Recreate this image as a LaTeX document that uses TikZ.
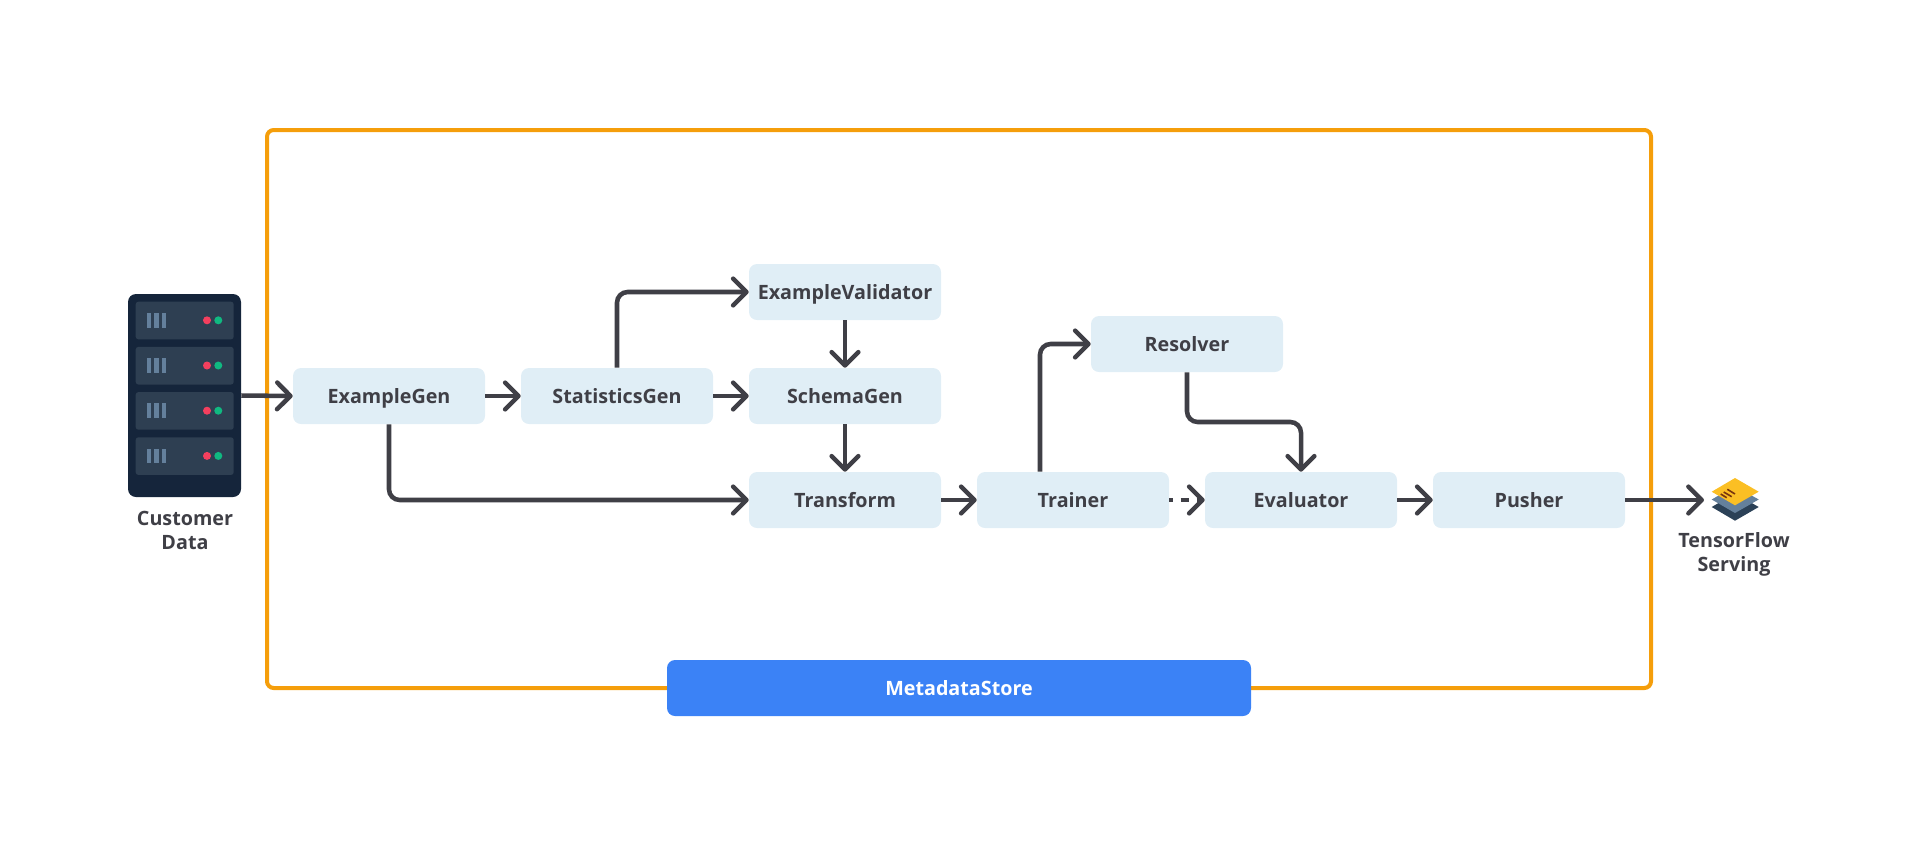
\documentclass[tikz,border=0pt]{standalone}
\usepackage{fontspec}
\setmainfont{Open Sans}
\usetikzlibrary{arrows.meta,positioning}
\definecolor{inkgray}{HTML}{3F3F46}
\definecolor{boxblue}{HTML}{E0EEF6}
\definecolor{storeblue}{HTML}{3B82F6}
\definecolor{frameorange}{HTML}{F59E0B}
\definecolor{rackdark}{HTML}{15253B}
\definecolor{slotgray}{HTML}{2E3F52}
\definecolor{barblue}{HTML}{64809C}
\definecolor{ledred}{HTML}{F43F5E}
\definecolor{ledgreen}{HTML}{10B981}
\definecolor{sheetyellow}{HTML}{FBBF24}
\definecolor{sheetdark}{HTML}{2B4157}
\definecolor{sheetline}{HTML}{78350F}
\begin{document}
\begin{tikzpicture}[
    x=0.75pt, y=-0.75pt,
    font=\fontsize{14.8pt}{18pt}\selectfont\bfseries,
    stage/.style={fill=boxblue, rounded corners=6pt, minimum width=144pt, minimum height=42pt,
                  inner sep=0pt, text height=10.5pt, text depth=0pt, text=inkgray},
    store/.style={fill=storeblue, rounded corners=6pt, minimum width=438pt, minimum height=42pt,
                  inner sep=0pt, text height=10.5pt, text depth=0pt, text=white},
    frame/.style={draw=frameorange, line width=3pt, rounded corners=5pt, inner sep=0pt,
                  minimum width=1038pt, minimum height=418.5pt},
    rack/.style={fill=rackdark, rounded corners=6pt, inner sep=0pt,
                 minimum width=84.75pt, minimum height=152.25pt},
    lab/.style={align=center, text=inkgray},
    dep/.style={draw=inkgray, line width=3.4pt, rounded corners=8pt,
                -{Straight Barb[length=10pt,width=20pt,round]}}]

  \useasboundingbox (0,0) rectangle (1920,844);

  \node[frame] (frame) at (959,409) {};
  \node[store] (store) at (959,688) {MetadataStore};

  \node[rack] (rack) at (184.5,395.5) {};
  \foreach \y in {0,1,2,3} {
    \fill[slotgray, rounded corners=2pt] (135.7,301.7+45.2*\y) rectangle (233.7,339.3+45.2*\y);
    \fill[barblue] (146.7,313+45.2*\y) rectangle (151,327.7+45.2*\y);
    \fill[barblue] (154,313+45.2*\y) rectangle (158.7,327.7+45.2*\y);
    \fill[barblue] (161.7,313+45.2*\y) rectangle (166,327.7+45.2*\y);
    \fill[ledred] (207,320.3+45.2*\y) circle (3pt);
    \fill[ledgreen] (218.3,320.3+45.2*\y) circle (3pt);
  }
  \node[lab] (customer) at (185,530) {Customer\\Data};

  \node[stage] (examplegen) at (389,396) {ExampleGen};
  \node[stage] (statsgen) at (617,396) {StatisticsGen};
  \node[stage] (validator) at (845,292) {ExampleValidator};
  \node[stage] (schemagen) at (845,396) {SchemaGen};
  \node[stage] (transform) at (845,500) {Transform};
  \node[stage] (trainer) at (1073,500) {Trainer};
  \node[stage] (resolver) at (1187,344) {Resolver};
  \node[stage] (evaluator) at (1301,500) {Evaluator};
  \node[stage] (pusher) at (1529,500) {Pusher};

  \fill[sheetdark] (1711.7,507) -- (1735,493.4) -- (1758.7,507) -- (1735,520.7) -- cycle;
  \fill[barblue] (1711.7,499.5) -- (1735,486) -- (1758.7,499.5) -- (1735,513) -- cycle;
  \fill[sheetyellow] (1711.7,491.7) -- (1735,478) -- (1758.7,491.7) -- (1735,505.3) -- cycle;
  \draw[sheetline, line width=1.2pt] (1720.7,494) -- (1726.7,497.7);
  \draw[sheetline, line width=1.2pt] (1723.7,492) -- (1731.7,496.7);
  \draw[sheetline, line width=1.2pt] (1727.3,489.3) -- (1735,494);
  \coordinate (servingtip) at (1704,500);
  \node[lab] (serving) at (1734,554.5) {TensorFlow\\Serving};

  \draw[dep] (rack.east) -- (examplegen.west);
  \draw[dep] (examplegen.east) -- (statsgen.west);
  \draw[dep] (statsgen.east) -- (schemagen.west);
  \draw[dep] (statsgen.north) |- (validator.west);
  \draw[dep] (validator.south) -- (schemagen.north);
  \draw[dep] (schemagen.south) -- (transform.north);
  \draw[dep] (examplegen.south) |- (transform.west);
  \draw[dep] (transform.east) -- (trainer.west);
  \draw[dep] ([xshift=-24.75pt]trainer.north) |- (resolver.west);
  \draw[dep] (resolver.south) |- (1301,422) -- (evaluator.north);
  \draw[dep, dash pattern=on 6pt off 6pt, dash phase=3.5pt] (trainer.east) -- (evaluator.west);
  \draw[dep] (evaluator.east) -- (pusher.west);
  \draw[dep] (pusher.east) -- (servingtip);
\end{tikzpicture}
\end{document}
